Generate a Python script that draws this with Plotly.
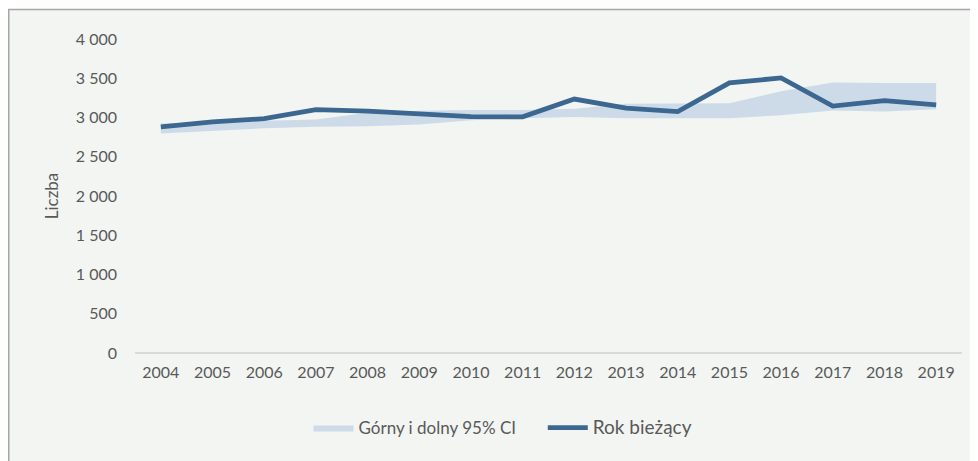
import plotly.graph_objects as go

years = [str(y) for y in range(2004, 2020)]
current = [2880, 2945, 2985, 3100, 3080, 3045, 3010, 3008, 3235, 3120, 3075, 3440, 3505, 3145, 3215, 3160]
ci_upper = [2925, 2945, 2960, 2975, 3060, 3085, 3096, 3096, 3110, 3175, 3178, 3182, 3335, 3445, 3440, 3440]
ci_lower = [2795, 2830, 2863, 2882, 2890, 2910, 2965, 2990, 3005, 2990, 2988, 2990, 3030, 3090, 3075, 3105]
ytick_vals = [0, 500, 1000, 1500, 2000, 2500, 3000, 3500, 4000]
ytick_text = ["0", "500", "1 000", "1 500", "2 000", "2 500", "3 000", "3 500", "4 000"]

LINE = "#3b6790"
BAND = "#cddbe9"
BG = "#f2f5f2"
FONT = "Lato"

fig = go.Figure()
fig.add_trace(go.Scatter(x=years, y=ci_lower, mode="lines", line=dict(width=0, color=BAND),
                         showlegend=False, hoverinfo="skip"))
fig.add_trace(go.Scatter(x=years, y=ci_upper, mode="lines", line=dict(width=0, color=BAND),
                         fill="tonexty", fillcolor=BAND,
                         name='<span style="font-size:17px">Górny i dolny 95% CI</span>&nbsp;&nbsp;&nbsp;&nbsp;&nbsp;'))
fig.add_trace(go.Scatter(x=years, y=current, mode="lines", line=dict(width=4.8, color=LINE),
                         name='<span style="font-size:19px">Rok bieżący</span>'))

# page is offset by the 8px body margin
OFF = 8
W, H = 970, 453
L, T = 135 - OFF, 39 - OFF
R = W - (962 - OFF)
B = H - (353 - OFF)
pw, ph = W - L - R, H - T - B

def px(x):
    return (x - OFF - L) / pw

def py(y):
    return (H - B - (y - OFF)) / ph

fig.add_shape(type="rect", xref="paper", yref="paper",
              x0=px(8.75), x1=px(1000), y0=py(9.5), y1=py(480),
              line=dict(color="#a6a6a6", width=1.5), fillcolor=BG, layer="below")

fig.update_layout(
    width=W, height=H,
    margin=dict(l=L, r=R, t=T, b=B, autoexpand=False),
    paper_bgcolor="white", plot_bgcolor=BG,
    font=dict(family=FONT, color="#595959", size=16),
    showlegend=True,
    legend=dict(orientation="h", x=px(503), xanchor="center", y=py(428), yanchor="middle",
                bgcolor="rgba(0,0,0,0)", font=dict(size=17, color="#595959"),
                traceorder="normal", itemwidth=40, tracegroupgap=0),
    xaxis=dict(type="category", showgrid=False, zeroline=False, showline=False,
               ticks="", tickfont=dict(size=16), range=[-0.5, 15.5], ticklabelstandoff=8),
    yaxis=dict(range=[0, 4000], tickvals=ytick_vals, ticktext=ytick_text, showgrid=False,
               zeroline=True, zerolinecolor="#d9d9d9", zerolinewidth=1.5, showline=False,
               ticks="", ticklabelstandoff=17, tickfont=dict(size=16),
               title=dict(text="Liczba", font=dict(size=17, color="#595959"), standoff=12)),
)
fig.write_html("out.html")
